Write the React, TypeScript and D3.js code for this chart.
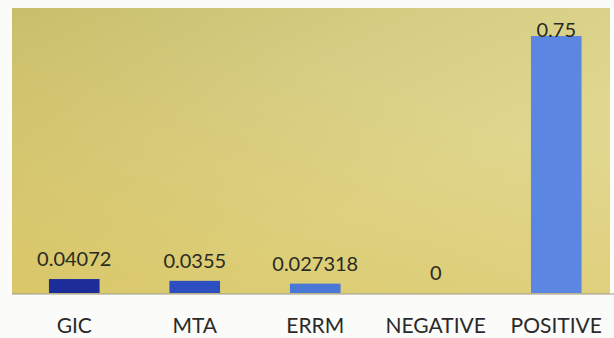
import React from "react";
import * as d3 from "d3";

// Scores per method
const categories: string[] = ["GIC", "MTA", "ERRM", "NEGATIVE", "POSITIVE"];
const values: number[] = [0.04072, 0.0355, 0.027318, 0, 0.75];
const valueLabels: string[] = ["0.04072", "0.0355", "0.027318", "0", "0.75"];
const barColors: string[] = ["#1c2c98", "#2c4ec0", "#4a78d6", "#4a78d6", "#5b86e2"];

const W = 614;
const H = 338;
const panel = { left: 12, top: 8, right: 610, bottom: 294 };

export default function App() {
  const x = d3
    .scaleBand<string>()
    .domain(categories)
    .range([14, 616.5])
    .paddingInner(0.58)
    .paddingOuter(0.29);

  const y = d3.scaleLinear().domain([0, 0.75]).range([293, 36]);

  return (
    <svg
      width={W}
      height={H}
      style={{ position: "fixed", left: 0, top: 0, display: "block" }}
    >
      <defs>
        <linearGradient id="paper" x1="0" y1="0" x2="1" y2="1">
          <stop offset="0" stopColor="#c7be6c" />
          <stop offset="0.35" stopColor="#d6cd84" />
          <stop offset="0.65" stopColor="#e0d78f" />
          <stop offset="1" stopColor="#e2d68c" />
        </linearGradient>
        <linearGradient id="warm" x1="0" y1="1" x2="0.55" y2="0.2">
          <stop offset="0" stopColor="#d8c25a" stopOpacity="0.7" />
          <stop offset="1" stopColor="#d8c25a" stopOpacity="0" />
        </linearGradient>
      </defs>
      <rect x={0} y={0} width={W} height={H} fill="#fbfbfa" />
      <rect
        x={panel.left}
        y={panel.top}
        width={panel.right - panel.left}
        height={panel.bottom - panel.top}
        fill="url(#paper)"
      />
      <rect
        x={panel.left}
        y={panel.top}
        width={panel.right - panel.left}
        height={panel.bottom - panel.top}
        fill="url(#warm)"
      />
      <line
        x1={panel.left}
        x2={W}
        y1={panel.bottom}
        y2={panel.bottom}
        stroke="#9a9a8a"
        strokeWidth={1.2}
      />

      {categories.map((c, i) => {
        const bx = x(c) ?? 0;
        const cx = bx + x.bandwidth() / 2;
        const top = y(values[i]);
        const labelY = Math.max(top - 13, panel.top + 29);
        return (
          <g key={c}>
            {values[i] > 0 && (
              <rect
                x={bx}
                y={top}
                width={x.bandwidth()}
                height={y(0) - top}
                fill={barColors[i]}
              />
            )}
            <text
              x={cx}
              y={labelY}
              textAnchor="middle"
              fontFamily="Lato, 'Open Sans', sans-serif"
              fontSize={20}
              fill="#2a2a22"
            >
              {valueLabels[i]}
            </text>
            <text
              x={cx}
              y={333}
              textAnchor="middle"
              fontFamily="Lato, 'Open Sans', sans-serif"
              fontSize={21}
              fill="#2a2a2a"
            >
              {c}
            </text>
          </g>
        );
      })}
    </svg>
  );
}
